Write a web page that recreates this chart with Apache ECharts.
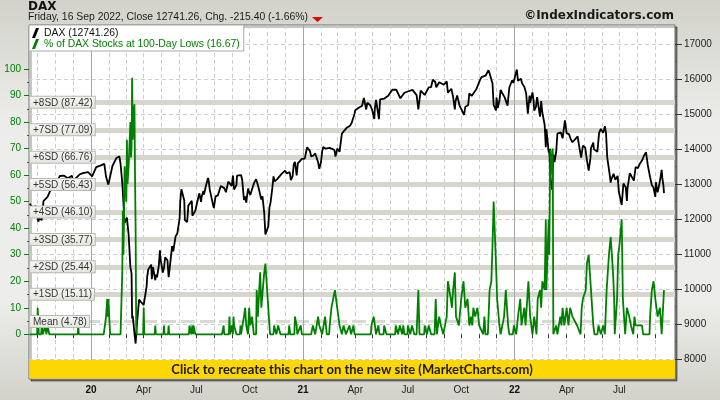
<!DOCTYPE html>
<html><head><meta charset="utf-8">
<script src="https://cdn.jsdelivr.net/npm/echarts@6/dist/echarts.min.js"></script>
<style>html,body{margin:0;padding:0;background:#fff}#c{width:720px;height:400px}</style>
</head><body><div id="c"></div>
<script>
const daxPoints = [
['2019-09-17',12430],['2019-09-20',12468],['2019-09-24',12307],['2019-09-27',12381],['2019-10-02',11925],['2019-10-04',12013],['2019-10-08',11970],['2019-10-11',12512],['2019-10-18',12634],['2019-10-25',12895],['2019-11-01',12961],['2019-11-08',13229],['2019-11-15',13242],['2019-11-22',13164],['2019-11-29',13236],['2019-12-03',12989],['2019-12-06',13167],['2019-12-13',13283],['2019-12-20',13319],['2019-12-27',13337],
['2020-01-03',13219],['2020-01-10',13483],['2020-01-17',13526],['2020-01-24',13577],['2020-01-27',13205],['2020-01-31',12982],['2020-02-07',13514],['2020-02-14',13744],['2020-02-19',13789],['2020-02-21',13579],['2020-02-24',13035],['2020-02-28',11890],['2020-03-03',12039],['2020-03-06',11542],['2020-03-09',10625],['2020-03-11',10439],['2020-03-12',9161],['2020-03-13',9232],['2020-03-16',8742],['2020-03-18',8442],['2020-03-20',8929],['2020-03-24',9701],['2020-03-27',9633],['2020-04-01',9544],['2020-04-03',9525],['2020-04-06',10075],['2020-04-07',10356],['2020-04-09',10565],['2020-04-14',10696],['2020-04-15',10280],['2020-04-17',10626],['2020-04-21',10250],['2020-04-22',10415],['2020-04-24',10336],['2020-04-27',10659],['2020-04-29',11107],['2020-04-30',10862],['2020-05-04',10467],['2020-05-06',10606],['2020-05-08',10904],['2020-05-12',10820],['2020-05-14',10337],['2020-05-15',10465],['2020-05-19',11075],['2020-05-20',11223],['2020-05-22',11074],['2020-05-26',11504],['2020-05-29',11587],['2020-06-02',12021],['2020-06-03',12487],['2020-06-05',12848],['2020-06-08',12820],['2020-06-10',12530],['2020-06-11',11970],['2020-06-12',11949],['2020-06-15',11911],['2020-06-17',12382],['2020-06-19',12331],['2020-06-23',12523],['2020-06-24',12093],['2020-06-26',12089],['2020-06-29',12232],['2020-07-01',12260],['2020-07-03',12528],['2020-07-06',12734],['2020-07-09',12489],['2020-07-10',12633],['2020-07-13',12800],['2020-07-14',12697],['2020-07-17',12920],['2020-07-21',13171],['2020-07-22',13104],['2020-07-24',12838],['2020-07-27',12839],['2020-07-30',12379],['2020-07-31',12313],['2020-08-03',12646],['2020-08-07',12675],['2020-08-10',12687],['2020-08-12',12946],['2020-08-14',12901],['2020-08-18',12882],['2020-08-21',12765],['2020-08-25',13068],['2020-08-28',13033],['2020-08-31',12945],['2020-09-02',13243],['2020-09-04',12842],['2020-09-08',12968],['2020-09-09',13237],['2020-09-11',13203],['2020-09-16',13255],['2020-09-18',13116],['2020-09-21',12542],['2020-09-23',12643],['2020-09-25',12469],['2020-09-28',12870],['2020-09-30',12761],['2020-10-02',12689],['2020-10-06',12906],['2020-10-09',13051],['2020-10-12',13138],['2020-10-14',13028],['2020-10-16',12909],['2020-10-19',12854],['2020-10-21',12558],['2020-10-23',12646],['2020-10-26',12177],['2020-10-28',11561],['2020-10-30',11556],['2020-11-02',11788],['2020-11-04',12324],['2020-11-06',12480],['2020-11-09',12881],['2020-11-11',13216],['2020-11-13',13077],['2020-11-17',13133],['2020-11-20',13137],['2020-11-25',13290],['2020-11-27',13335],['2020-12-01',13382],['2020-12-04',13298],['2020-12-09',13340],['2020-12-11',13114],['2020-12-14',13223],['2020-12-16',13565],['2020-12-18',13630],['2020-12-21',13246],['2020-12-23',13587],['2020-12-30',13719],
['2021-01-04',13727],['2021-01-08',14049],['2021-01-13',13940],['2021-01-15',13787],['2021-01-19',13815],['2021-01-22',13873],['2021-01-27',13620],['2021-01-29',13433],['2021-02-01',13622],['2021-02-03',13933],['2021-02-05',14057],['2021-02-09',14011],['2021-02-12',14050],['2021-02-16',14033],['2021-02-19',13993],['2021-02-24',13976],['2021-02-26',13786],['2021-03-01',14012],['2021-03-04',14056],['2021-03-05',13920],['2021-03-09',14437],['2021-03-12',14502],['2021-03-17',14597],['2021-03-19',14621],['2021-03-23',14662],['2021-03-26',14749],['2021-03-31',15008],['2021-04-01',15107],['2021-04-07',15177],['2021-04-09',15234],['2021-04-13',15234],['2021-04-16',15460],['2021-04-20',15130],['2021-04-22',15320],['2021-04-23',15280],['2021-04-27',15249],['2021-04-30',15136],['2021-05-04',14856],['2021-05-05',15170],['2021-05-07',15400],['2021-05-10',15400],['2021-05-12',14851],['2021-05-14',15417],['2021-05-21',15438],['2021-05-28',15520],['2021-06-04',15693],['2021-06-11',15693],['2021-06-18',15448],['2021-06-25',15608],['2021-07-02',15650],['2021-07-09',15688],['2021-07-16',15540],['2021-07-19',15133],['2021-07-23',15669],['2021-07-30',15544],['2021-08-06',15761],['2021-08-10',15770],['2021-08-13',15977],['2021-08-17',15921],['2021-08-19',15765],['2021-08-20',15808],['2021-08-24',15906],['2021-08-27',15852],['2021-09-01',15835],['2021-09-03',15781],['2021-09-06',15932],['2021-09-08',15610],['2021-09-10',15609],['2021-09-14',15722],['2021-09-17',15491],['2021-09-20',15132],['2021-09-21',15349],['2021-09-24',15531],['2021-09-28',15248],['2021-09-30',15260],['2021-10-04',15036],['2021-10-06',14973],['2021-10-08',15207],['2021-10-13',15249],['2021-10-15',15587],['2021-10-19',15516],['2021-10-22',15543],['2021-10-27',15705],['2021-10-29',15689],['2021-11-02',15954],['2021-11-05',16054],['2021-11-08',16047],['2021-11-12',16094],['2021-11-15',16148],['2021-11-17',16251],['2021-11-19',16160],['2021-11-24',15878],['2021-11-26',15257],['2021-11-29',15280],['2021-11-30',15100],['2021-12-01',15472],['2021-12-03',15169],['2021-12-06',15386],['2021-12-08',15687],['2021-12-10',15623],['2021-12-13',15622],['2021-12-15',15476],['2021-12-17',15531],['2021-12-20',15239],['2021-12-23',15756],['2021-12-28',15964],['2021-12-30',15885],
['2022-01-05',16271],['2022-01-07',15947],['2022-01-12',16010],['2022-01-14',15883],['2022-01-18',15773],['2022-01-21',15603],['2022-01-24',15011],['2022-01-27',15525],['2022-01-28',15318],['2022-02-01',15619],['2022-02-03',15368],['2022-02-04',15100],['2022-02-07',15206],['2022-02-09',15482],['2022-02-11',15425],['2022-02-14',14926],['2022-02-16',15370],['2022-02-18',15042],['2022-02-22',14693],['2022-02-24',14052],['2022-02-25',14567],['2022-03-01',13905],['2022-03-02',14000],['2022-03-04',13094],['2022-03-07',12835],['2022-03-08',12832],['2022-03-09',13847],['2022-03-11',13628],['2022-03-14',13929],['2022-03-16',14440],['2022-03-18',14413],['2022-03-22',14474],['2022-03-25',14306],['2022-03-29',14820],['2022-04-01',14446],['2022-04-05',14424],['2022-04-08',14284],['2022-04-11',14193],['2022-04-14',14164],['2022-04-20',14363],['2022-04-22',14142],['2022-04-26',13756],['2022-04-29',14098],['2022-05-03',14039],['2022-05-06',13674],['2022-05-09',13381],['2022-05-12',13739],['2022-05-13',14027],['2022-05-17',14186],['2022-05-18',13996],['2022-05-20',13982],['2022-05-24',13919],['2022-05-27',14462],['2022-05-30',14575],['2022-06-03',14460],['2022-06-06',14654],['2022-06-08',14445],['2022-06-10',13762],['2022-06-14',13304],['2022-06-16',13038],['2022-06-17',13127],['2022-06-21',13292],['2022-06-24',13118],['2022-06-28',13231],['2022-06-30',12784],['2022-07-05',12401],['2022-07-08',13015],['2022-07-12',12905],['2022-07-14',12519],['2022-07-15',12865],['2022-07-19',13308],['2022-07-22',13254],['2022-07-26',13097],['2022-07-29',13484],['2022-08-02',13449],['2022-08-05',13574],['2022-08-10',13700],['2022-08-12',13795],['2022-08-16',13910],['2022-08-19',13544],['2022-08-23',13195],['2022-08-26',12971],['2022-08-29',12893],['2022-09-01',12631],['2022-09-02',13050],['2022-09-05',12761],['2022-09-07',12916],['2022-09-09',13088],['2022-09-12',13402],['2022-09-13',13189],['2022-09-15',12956],['2022-09-16',12741.26]];

const pctDates = ['2019-09-17','2019-09-30','2019-10-01','2019-10-03','2019-10-07','2019-10-08','2019-10-10','2019-10-14','2019-10-16','2019-10-18','2019-10-21','2019-12-09','2019-12-10','2019-12-11',
'2020-01-23','2020-01-27','2020-01-29','2020-01-30','2020-01-31','2020-02-03','2020-02-21','2020-02-24','2020-02-25','2020-02-26','2020-02-27','2020-02-28','2020-03-02','2020-03-03','2020-03-04','2020-03-05','2020-03-06','2020-03-09','2020-03-10','2020-03-11','2020-03-12','2020-03-13','2020-03-16','2020-03-17','2020-03-18','2020-03-19','2020-03-20','2020-03-31','2020-04-01','2020-04-02','2020-04-20','2020-04-21','2020-04-22','2020-05-05','2020-05-06','2020-05-07','2020-05-13','2020-05-14','2020-05-15','2020-06-18','2020-06-19','2020-06-22','2020-06-24','2020-06-25','2020-06-26','2020-06-29','2020-08-14','2020-08-17','2020-08-18','2020-08-26','2020-08-27','2020-08-28','2020-08-31','2020-09-02','2020-09-03','2020-09-04','2020-09-08','2020-09-14','2020-09-15','2020-09-16','2020-09-21','2020-09-23','2020-09-25','2020-09-28','2020-09-30','2020-10-02','2020-10-05','2020-10-08','2020-10-12','2020-10-13','2020-10-15','2020-10-19','2020-10-21','2020-10-26','2020-10-28','2020-10-30','2020-11-02','2020-11-05','2020-11-11','2020-11-12','2020-11-16','2020-11-18','2020-11-19','2020-11-23','2020-12-07','2020-12-08','2020-12-10','2020-12-17','2020-12-18','2020-12-21','2020-12-22','2020-12-28','2020-12-30',
'2021-01-15','2021-01-18','2021-01-22','2021-01-27','2021-01-29','2021-02-03','2021-02-08','2021-02-11','2021-02-15','2021-02-16','2021-02-19','2021-02-22','2021-02-25','2021-03-01','2021-03-03','2021-03-05','2021-03-09','2021-03-12','2021-03-16','2021-03-22','2021-03-25','2021-03-29','2021-03-31','2021-04-28','2021-04-29','2021-05-03','2021-05-05','2021-05-07','2021-05-11','2021-05-13','2021-05-20','2021-05-21','2021-05-25','2021-06-09','2021-06-10','2021-06-14','2021-06-17','2021-06-21','2021-06-23','2021-06-25','2021-06-30','2021-07-01','2021-07-05','2021-07-08','2021-07-12','2021-07-16','2021-07-19','2021-07-21','2021-07-29','2021-07-30','2021-08-03','2021-08-06','2021-08-10','2021-08-16','2021-08-18','2021-08-20','2021-08-24','2021-08-27','2021-08-31','2021-09-03','2021-09-06','2021-09-08','2021-09-13','2021-09-15','2021-09-17','2021-09-20','2021-09-22','2021-09-27','2021-10-01','2021-10-05','2021-10-08','2021-10-12','2021-10-15','2021-10-18','2021-10-20','2021-10-22','2021-10-25','2021-10-29','2021-11-01','2021-11-04','2021-11-08','2021-11-10','2021-11-12','2021-11-16','2021-11-19','2021-11-22','2021-11-24','2021-11-26','2021-11-30','2021-12-02','2021-12-06','2021-12-08','2021-12-10','2021-12-14','2021-12-17','2021-12-21','2021-12-23','2021-12-29','2021-12-31',
'2022-01-04','2022-01-07','2022-01-11','2022-01-13','2022-01-18','2022-01-20','2022-01-24','2022-01-25','2022-01-28','2022-02-01','2022-02-04','2022-02-08','2022-02-10','2022-02-14','2022-02-16','2022-02-18','2022-02-21','2022-02-22','2022-02-24','2022-02-25','2022-03-01','2022-03-02','2022-03-03','2022-03-04','2022-03-07','2022-03-08','2022-03-09','2022-03-11','2022-03-14','2022-03-16','2022-03-21','2022-03-23','2022-03-25','2022-03-28','2022-04-01','2022-04-04','2022-04-07','2022-04-11','2022-04-13','2022-04-19','2022-04-21','2022-04-25','2022-04-27','2022-04-29','2022-05-04','2022-05-06','2022-05-09','2022-05-13','2022-05-17','2022-05-19','2022-05-24','2022-05-26','2022-05-30','2022-06-02','2022-06-03','2022-06-06','2022-06-09','2022-06-13','2022-06-16','2022-06-20','2022-06-22','2022-06-23','2022-06-27','2022-06-29','2022-07-01','2022-07-05','2022-07-07','2022-07-11','2022-07-14','2022-07-18','2022-07-21','2022-07-25','2022-07-27','2022-07-29','2022-08-03','2022-08-09','2022-08-11','2022-08-22','2022-08-23','2022-08-26','2022-08-29','2022-09-01','2022-09-05','2022-09-07','2022-09-09','2022-09-12','2022-09-16'];
const pctValues = [0,0,10,0,0,3.33,0,3.33,0,3.33,0,0,3.33,0,
0,6.67,13.33,6.67,13.33,0,0,23.33,46.67,30,43.33,63.33,50,73.33,56.67,60,63.33,80,66.67,70,96.67,73.33,86.67,60,40,3.33,0,0,10,0,0,3.33,0,0,3.33,0,0,3.33,0,0,3.33,0,3.33,0,3.33,0,0,3.33,0,0,6.67,0,3.33,0,6.67,3.33,0,0,3.33,0,6.67,10,3.33,0,10,3.33,6.67,0,0,16.67,6.67,23.33,10,23.33,26.67,20,10,0,0,3.33,0,0,3.33,0,0,3.33,0,0,6.67,3.33,0,3.33,0,
0,3.33,0,6.67,3.33,0,6.67,0,0,3.33,10,13.33,16.67,10,6.67,3.33,0,3.33,0,3.33,0,3.33,0,0,3.33,6.67,3.33,0,3.33,0,0,3.33,0,0,3.33,0,3.33,0,3.33,0,0,3.33,0,3.33,0,0,16.67,0,0,3.33,0,3.33,0,0,13.33,0,6.67,3.33,0,0,6.67,20,13.33,10,16.67,23.33,6.67,3.33,13.33,20,10,13.33,3.33,6.67,3.33,10,6.67,10,3.33,3.33,0,6.67,0,0,16.67,20,33.33,50,26.67,13.33,3.33,0,0,6.67,16.67,3.33,0,0,3.33,
0,6.67,13.33,3.33,10,3.33,16.67,20,6.67,0,6.67,0,13.33,16.67,10,20,20,16.67,43.33,16.67,43.33,30,53.33,70,60,70,0,0,3.33,0,6.67,3.33,10,3.33,10,3.33,10,6.67,6.67,3.33,3.33,0,10,13.33,16.67,26.67,30,16.67,3.33,0,0,3.33,0,0,3.33,0,16.67,30,36.67,23.33,13.33,0,13.33,30,33.33,43.33,13.33,0,10,6.67,3.33,0,6.67,3.33,3.33,3.33,0,0,6.67,16.67,20,13.33,6.67,6.67,10,0,16.67];

const sdNames = ['Mean','+1SD','+2SD','+3SD','+4SD','+5SD','+6SD','+7SD','+8SD'];
const sdValues = [4.78,15.11,25.44,35.77,46.10,56.43,66.76,77.09,87.42];
const daxTicks = [8000,9000,10000,11000,12000,13000,14000,15000,16000,17000];
const daxMinorTicks = [8500,9500,10500,11500,12500,13500,14500,15500,16500];
const pctTicks = [0,10,20,30,40,50,60,70,80,90,100];
const pctMinorTicks = [5,15,25,35,45,55,65,75,85,95];
const xLabelDates = ['2020-01-01','2020-04-01','2020-07-01','2020-10-01','2021-01-01','2021-04-01','2021-07-01','2021-10-01','2022-01-01','2022-04-01','2022-07-01'];
const xLabelTexts = ['20','Apr','Jul','Oct','21','Apr','Jul','Oct','22','Apr','Jul'];
const yearLines = ['2020-01-01','2021-01-01','2022-01-01'];

function ts(s){const p=s.split('-');return Date.UTC(+p[0],+p[1]-1,+p[2]);}
const monthTicks=[];
for(let y=2019,m=9;(y<2022)||(y===2022&&m<=8);){monthTicks.push(Date.UTC(y,m,1));m++;if(m>11){m=0;y++;}}
const labelMap={};
xLabelDates.forEach((d,i)=>{labelMap[ts(d)]=xLabelTexts[i];});

const daxData=daxPoints.map(p=>[ts(p[0]),p[1]]);
const pctData=pctDates.map((d,i)=>[ts(d),pctValues[i]]);
const daxLast=daxPoints[daxPoints.length-1][1];
const daxName='DAX ('+daxLast.toFixed(2)+')';
const pctName='% of DAX Stocks at 100-Day Lows ('+pctValues[pctValues.length-1].toFixed(2)+')';

const FONT='"Liberation Sans", Arial, sans-serif';
const GREEN='#008000';

const bandLines=sdValues.map((v,i)=>({
  yAxis:v,
  lineStyle: i===0?{color:'#d9d9d3',width:3,type:[14,5]}:{color:'#d6d6ce',width:5,type:'solid'}
}));
const bandLabels=sdValues.map((v,i)=>({yAxis:v,label:{formatter:sdNames[i]+' ('+v.toFixed(2)+')'}}));
const yLines=yearLines.map(d=>({xAxis:ts(d),lineStyle:{color:'#a6a6a6',width:1,type:'solid'}}));

const chart=echarts.init(document.getElementById('c'),null,{renderer:'canvas'});
chart.setOption({
  animation:false,
  backgroundColor:{type:'linear',x:0,y:0,x2:0,y2:1,colorStops:[{offset:0,color:'#d2d2ca'},{offset:0.3,color:'#ececea'},{offset:0.75,color:'#ededeb'},{offset:1,color:'#d2d2ca'}]},
  grid:{left:29,right:45,top:25,bottom:21,show:true,backgroundColor:'#fff',borderColor:'#6e6e6e',borderWidth:1,
        shadowColor:'rgba(0,0,0,0.45)',shadowBlur:0,shadowOffsetX:2,shadowOffsetY:2},
  legend:{left:29,top:25,orient:'vertical',itemGap:1,itemWidth:7,itemHeight:10,padding:[3,4,2,3],z:10,
    backgroundColor:'#fff',borderColor:'#a9a9a9',borderWidth:1,
    data:[{name:daxName,icon:'path://M0,10L4,0L7,0L3,10Z',textStyle:{color:'#111'}},
          {name:pctName,icon:'path://M0,10L4,0L7,0L3,10Z',textStyle:{color:GREEN}}],
    textStyle:{fontFamily:FONT,fontSize:10.4}},
  xAxis:{type:'value',min:ts('2019-09-16'),max:ts('2022-10-05'),
    axisLine:{show:false},
    axisTick:{show:true,length:4,customValues:monthTicks,lineStyle:{color:'#333'}},
    splitLine:{show:true,lineStyle:{color:'#cdcdcd',type:[4,3],width:1}},
    axisLabel:{customValues:xLabelDates.map(ts),margin:6,fontFamily:FONT,fontSize:10,color:'#222',
      formatter:function(v){const t=labelMap[v]||'';return /^\d+$/.test(t)?'{b|'+t+'}':t;},
      rich:{b:{fontWeight:'bold',fontFamily:FONT,fontSize:10,color:'#111'}}}},
  yAxis:[
    {type:'value',position:'left',min:-16.85,max:116.58,
     axisLine:{show:false},
     axisTick:{show:true,length:5,customValues:pctTicks,lineStyle:{color:GREEN}},
     axisLabel:{customValues:pctTicks,margin:8,color:GREEN,fontFamily:FONT,fontSize:10,formatter:v=>String(v)},
     splitLine:{show:false}},
    {type:'value',position:'right',min:7428.6,max:17542.9,
     axisLine:{show:false},
     axisTick:{show:true,length:7,customValues:daxTicks,lineStyle:{color:'#333'}},
     axisLabel:{customValues:daxTicks,margin:9,color:'#222',fontFamily:FONT,fontSize:10,formatter:v=>String(v)},
     splitLine:{show:true,lineStyle:{color:'#cdcdcd',type:[4,3],width:1}}},
    {type:'value',position:'left',min:-16.85,max:116.58,
     axisLine:{show:false},axisTick:{show:true,length:2,customValues:pctMinorTicks,lineStyle:{color:'#555'}},
     axisLabel:{show:false},splitLine:{show:false}},
    {type:'value',position:'right',min:7428.6,max:17542.9,
     axisLine:{show:false},axisTick:{show:true,length:2,customValues:daxMinorTicks,lineStyle:{color:'#555'}},
     axisLabel:{show:false},splitLine:{show:false}}
  ],
  series:[
    {type:'line',name:'bands',data:pctData,yAxisIndex:0,symbol:'none',silent:true,z:1,
     lineStyle:{opacity:0},
     markLine:{silent:true,symbol:'none',animation:false,z:1,label:{show:false},
       data:bandLines.concat(yLines)}},
    {type:'line',name:daxName,data:daxData,yAxisIndex:1,symbol:'none',z:3,
     lineStyle:{color:'#000',width:1.8},itemStyle:{color:'#000'}},
    {type:'line',name:pctName,data:pctData,yAxisIndex:0,symbol:'none',z:4,
     lineStyle:{color:GREEN,width:1.8},itemStyle:{color:GREEN}},
    {type:'line',name:'bandLabels',data:pctData,yAxisIndex:0,symbol:'none',silent:true,z:8,
     lineStyle:{color:'rgba(0,0,0,0)'},
     markLine:{silent:true,symbol:'none',animation:false,z:8,lineStyle:{color:'rgba(0,0,0,0)',width:1,type:'solid'},
       label:{show:true,position:'insideStartTop',distance:[1,-5.5],fontFamily:FONT,fontSize:10,color:'#333',
         backgroundColor:{type:'linear',x:0,y:0,x2:0,y2:1,colorStops:[{offset:0,color:'#f7f7f5'},{offset:1,color:'#e4e4de'}]},
         borderColor:'#b9b9b1',borderWidth:1,padding:[1,2,0,3]},
       data:bandLabels}}
  ],
  graphic:[
    {type:'text',left:28,top:1,style:{text:'DAX',font:'bold 12px "DejaVu Sans"',fill:'#111'}},
    {type:'text',left:28,top:12,style:{text:'Friday, 16 Sep 2022, Close 12741.26, Chg. -215.40 (-1.66%)',font:'10.4px '+FONT,fill:'#1a1a1a'}},
    {type:'polygon',shape:{points:[[312,17],[323,17],[317.5,22]]},style:{fill:'#e00000'}},
    {type:'text',right:46,top:10,style:{text:'©IndexIndicators.com',font:'bold 12px "DejaVu Sans"',fill:'#1a1a1a'}},
    {type:'rect',z:100,shape:{x:29.5,y:360,width:645.5,height:18.5},style:{fill:'#FFD700'}},
    {type:'text',z:101,x:352,y:370,style:{text:'Click to recreate this chart on the new site (MarketCharts.com)',font:'bold 13px Lato',fill:'#1a1a1a',align:'center',verticalAlign:'middle'}}
  ]
});
</script></body></html>
